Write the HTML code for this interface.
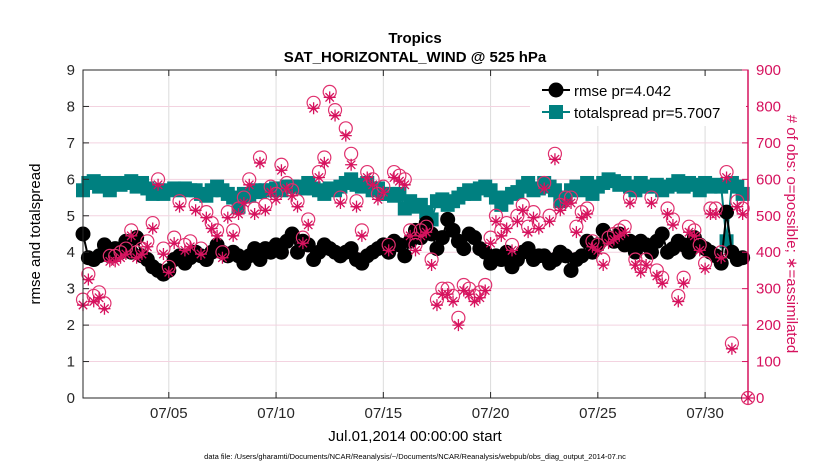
<!DOCTYPE html>
<html><head><meta charset="utf-8"><style>
body{margin:0;background:#fff;}
svg{display:block;font-family:"Liberation Sans",sans-serif;}
</style></head><body>
<svg id="chart" width="830" height="470">
<text x="415" y="43" text-anchor="middle" font-size="15" font-weight="bold">Tropics</text>
<text x="415" y="62" text-anchor="middle" font-size="15" font-weight="bold">SAT_HORIZONTAL_WIND @ 525 hPa</text>
<g id="grid"></g><g id="marks"></g><g id="axes"></g>
<text transform="translate(40,234) rotate(-90)" text-anchor="middle" font-size="15">rmse and totalspread</text>
<text transform="translate(787,234) rotate(90)" text-anchor="middle" font-size="15" fill="#d6125e"># of obs: o=possible; ∗=assimilated</text>
<text x="415" y="441" text-anchor="middle" font-size="15">Jul.01,2014 00:00:00 start</text>
<text x="415" y="459" text-anchor="middle" font-size="7.5">data file: /Users/gharamti/Documents/NCAR/Reanalysis/~/Documents/NCAR/Reanalysis/webpub/obs_diag_output_2014-07.nc</text>
<g>
<rect x="530" y="76" width="216" height="50" fill="#fff"/>
<line x1="542" y1="90" x2="570" y2="90" stroke="#000" stroke-width="2"/>
<circle cx="556" cy="90" r="7.5" fill="#000"/>
<text x="574" y="96" font-size="15">rmse pr=4.042</text>
<line x1="542" y1="112" x2="570" y2="112" stroke="#008080" stroke-width="2"/>
<rect x="549" y="105" width="14" height="14" fill="#008080"/>
<text x="574" y="118" font-size="15">totalspread pr=5.7007</text>
</g>
</svg>
<script>
const rmse=[4.5,3.85,3.8,3.9, 4.2,3.9,4.1,4.0, 4.3,4.0,4.4,3.9, 3.8,3.6,3.5,3.4, 3.5,3.8,3.9,3.7, 3.85,4.0,3.9,3.8, 4.0,4.2,4.0,3.9, 4.0,3.9,3.7,3.9, 4.1,3.8,4.1,4.0, 4.2,4.0,4.3,4.5, 4.0,4.3,4.2,3.8, 4.0,4.2,4.1,4.0, 3.9,4.0,4.1,3.8, 3.7,3.9,4.0,4.1, 4.2,4.0,4.3,4.2, 3.9,4.3,4.6,4.4, 4.8,4.5,4.1,4.4, 4.9,4.6,4.3,4.1, 4.5,4.4,4.1,4.0, 3.7,3.9,3.8,4.0, 3.6,3.8,4.0,4.1, 3.8,3.9,3.9,3.7, 3.8,4.0,3.9,3.5, 3.8,3.9,4.3,4.0, 4.2,4.6,4.4,4.3, 4.5,4.2,4.3,4.0, 4.3,4.2,4.0,4.3, 4.5,4.0,4.1,4.3, 4.2,4.0,4.4,4.2, 4.1,4.0,3.9,3.7, 5.1,4.0,3.8,3.85];
const spread=[5.7,5.9,5.95,5.8, 5.9,5.7,5.9,5.85, 5.9,5.95,5.8,5.9, 5.75,5.6,5.7,5.6, 5.7,5.75,5.7,5.75, 5.7,5.7,5.6,5.55, 5.7,5.8,5.7,5.6, 5.5,5.25,5.6,5.55, 5.7,5.65,5.7,5.7, 5.75,5.7,5.8,5.8, 5.8,5.75,5.9,5.75, 5.7,5.6,5.75,5.7, 5.8,5.9,6.0,5.85, 5.8,5.9,5.7,5.75, 5.6,5.6,5.55,5.6, 5.2,5.4,5.25,5.3, 5.1,4.9,5.4,5.45, 5.3,5.4,5.5,5.6, 5.7,5.6,5.75,5.8, 5.7,5.5,5.3,5.5, 5.6,5.65,5.8,5.9, 5.7,5.75,5.9,5.8, 5.7,5.4,5.5,5.7, 5.8,5.7,5.9,5.6, 5.8,5.9,6.0,5.95, 5.85,5.9,5.8,5.7, 5.9,5.8,5.8,5.85, 5.7,5.8,5.85,5.95, 5.8,5.9,5.85,5.7, 5.9,5.8,5.85,5.8, 4.3,5.9,5.8,5.6];
const obsPossible=[270,340,280,290, 260,390,390,400, 410,460,400,410, 430,480,600,410, 360,440,540,420, 430,530,410,510, 480,460,400,510, 460,520,550,600, 520,660,530,580, 560,640,590,570, 540,440,490,810, 620,660,840,790, 550,740,670,540, 460,620,600,560, 580,420,620,610, 600,460,420,460, 470,380,270,300, 300,280,220,310, 300,280,290,310, 440,500,460,480, 420,500,530,470, 510,480,590,500, 670,530,550,550, 470,510,520,430, 420,380,440,450, 460,470,550,380, 360,380,550,350, 330,520,490,280, 330,470,460,420, 370,520,520,400, 620,150,540,520, 0];
const obsAssim=[255,325,265,275, 245,375,375,385, 395,445,385,395, 415,465,585,395, 345,425,525,405, 415,515,395,495, 465,445,385,495, 445,505,535,585, 505,645,515,565, 545,625,575,555, 525,425,475,795, 605,645,825,775, 535,720,640,525, 445,605,585,545, 565,405,605,595, 585,445,405,445, 455,365,255,285, 285,265,200,295, 285,265,275,295, 425,485,445,465, 405,485,515,455, 495,465,575,485, 655,515,535,535, 455,495,505,415, 405,365,425,435, 445,455,535,365, 345,365,535,335, 315,505,475,265, 315,455,445,405, 355,505,505,385, 605,135,525,505, 0];
const xTicks=[5,10,15,20,25,30];
const xTickLabels=["07/05","07/10","07/15","07/20","07/25","07/30"];
const yTicks=[0,1,2,3,4,5,6,7,8,9];
const y2Ticks=[0,100,200,300,400,500,600,700,800,900];

const L=83,R=748,T=70,B=398;
const x=d=>L+(d-1)/31*(R-L);          // d = day-of-month (fractional)
const y=v=>B-v/9*(B-T);
const y2=v=>B-v/900*(B-T);
const NS="http://www.w3.org/2000/svg";
function mk(parent,tag,attrs){const e=document.createElementNS(NS,tag);for(const k in attrs)e.setAttribute(k,attrs[k]);document.getElementById(parent).appendChild(e);return e;}
const tAt=i=>1+i*0.25;

// grid
xTicks.forEach(t=>{const e=mk('grid','line',{x1:x(t),x2:x(t),y1:T,y2:B,stroke:'#dcdcdc','stroke-width':1});

});
y2Ticks.forEach(t=>{const e=mk('grid','line',{x1:L,x2:R,y1:y2(t),y2:y2(t),stroke:'#f3d3e0','stroke-width':1});

});

// spread
let p=spread.map((v,i)=>x(tAt(i))+','+y(v)).join(' ');
let sl=mk('marks','polyline',{points:p,fill:'none',stroke:'#008080','stroke-width':2});


spread.forEach((v,i)=>{const e=mk('marks','rect',{x:x(tAt(i))-7,y:y(v)-7,width:14,height:14,fill:'#008080'});

});
// rmse
p=rmse.map((v,i)=>x(tAt(i))+','+y(v)).join(' ');
let rl=mk('marks','polyline',{points:p,fill:'none',stroke:'#000','stroke-width':2});


rmse.forEach((v,i)=>{const e=mk('marks','circle',{cx:x(tAt(i)),cy:y(v),r:7.5,fill:'#000'});

});
// obs
obsPossible.forEach((v,i)=>{const e=mk('marks','circle',{cx:x(tAt(i)),cy:y2(v),r:6.5,fill:'none',stroke:'#e0306e','stroke-width':1.2});

});
obsAssim.forEach((v,i)=>{const cx=x(tAt(i)),cy=y2(v),s=6;
const g=mk('marks','path',{d:`M${cx-s} ${cy}H${cx+s}M${cx} ${cy-s}V${cy+s}M${cx-4.2} ${cy-4.2}L${cx+4.2} ${cy+4.2}M${cx-4.2} ${cy+4.2}L${cx+4.2} ${cy-4.2}`,stroke:'#d6125e','stroke-width':1.3,fill:'none'});

});

// axes
const fr=mk('axes','rect',{x:L,y:T,width:R-L,height:B-T,fill:'none',stroke:'#262626','stroke-width':1});


const ra=mk('axes','line',{x1:R,x2:R,y1:T,y2:B,stroke:'#d6125e','stroke-width':1.5});


xTicks.forEach((t,i)=>{mk('axes','line',{x1:x(t),x2:x(t),y1:B,y2:B-6,stroke:'#262626'});mk('axes','line',{x1:x(t),x2:x(t),y1:T,y2:T+6,stroke:'#262626'});
const e=mk('axes','text',{x:x(t),y:B+20,'text-anchor':'middle','font-size':15,fill:'#262626'});e.textContent=xTickLabels[i];

});
yTicks.forEach(t=>{mk('axes','line',{x1:L,x2:L+6,y1:y(t),y2:y(t),stroke:'#262626'});
const e=mk('axes','text',{x:L-8,y:y(t)+5,'text-anchor':'end','font-size':15,fill:'#262626'});e.textContent=t;

});
y2Ticks.forEach(t=>{mk('axes','line',{x1:R,x2:R-6,y1:y2(t),y2:y2(t),stroke:'#d6125e'});
const e=mk('axes','text',{x:R+8,y:y2(t)+5,'text-anchor':'start','font-size':15,fill:'#d6125e'});e.textContent=t;

});
</script>
</body></html>
